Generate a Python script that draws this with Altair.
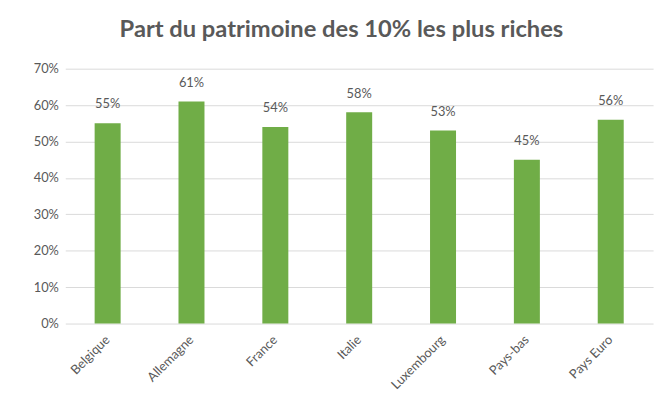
import altair as alt
import pandas as pd

countries = ["Belgique", "Allemagne", "France", "Italie", "Luxembourg", "Pays-bas", "Pays Euro"]
shares = [0.55, 0.61, 0.54, 0.58, 0.53, 0.45, 0.56]

df = pd.DataFrame({"pays": countries, "part": shares})

FONT = "Lato"
GRAY = "#595959"

base = alt.Chart(df).encode(
    x=alt.X("pays:N", sort=countries, title=None,
            scale=alt.Scale(paddingInner=0.69, paddingOuter=0.35),
            axis=alt.Axis(labelAngle=-45, labelAlign="right", labelBaseline="middle",
                          labelFont=FONT, labelFontSize=13, labelColor=GRAY,
                          domain=False, ticks=False, labelPadding=14)),
    y=alt.Y("part:Q", title=None,
            scale=alt.Scale(domain=[0, 0.7]),
            axis=alt.Axis(format=".0%", values=[0, .1, .2, .3, .4, .5, .6, .7],
                          labelFont=FONT, labelFontSize=13, labelColor=GRAY,
                          domain=False, ticks=False, labelPadding=7,
                          gridColor="#d9d9d9", gridWidth=1)),
)

bars = base.mark_bar(color="#70AD47")
labels = base.mark_text(dy=-19, font=FONT, fontSize=13, color=GRAY).encode(
    text=alt.Text("part:Q", format=".0%"))

chart = (bars + labels).properties(
    width=595, height=258,
    autosize=alt.AutoSizeParams(type="none"),
    padding={"left": 58, "top": 59, "right": 6, "bottom": 78},
    title=alt.TitleParams("Part du patrimoine des 10% les plus riches",
                          font=FONT, fontSize=24, fontWeight="bold", color=GRAY,
                          anchor="middle", dx=-18, offset=21),
).configure_view(stroke=None)

chart.save("out.html", embed_options={"renderer": "svg", "actions": False})
